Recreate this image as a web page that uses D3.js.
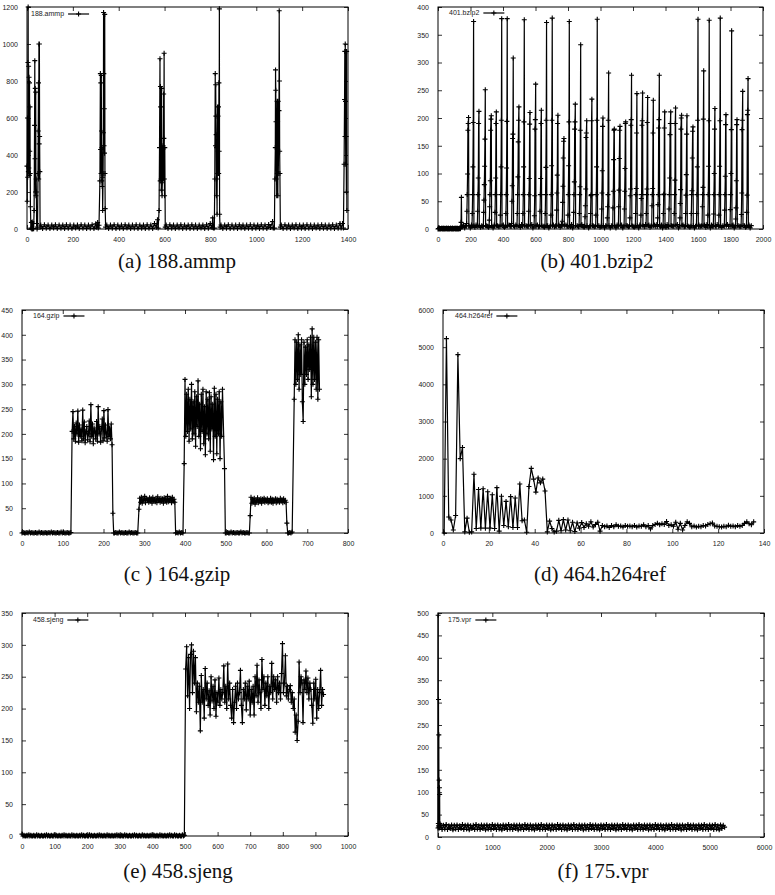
<!DOCTYPE html>
<html><head><meta charset="utf-8">
<script src="https://cdn.jsdelivr.net/npm/d3@7/dist/d3.min.js"></script>
<style>
body{margin:0;background:#fff;}
svg{display:block;}
.cap{font-family:"Liberation Serif","LiberationSerif","Times New Roman","Tinos","Nimbus Roman","Nimbus Roman No9 L","FreeSerif","DejaVu Serif","Noto Serif",serif;}
</style></head><body>
<svg id="chart" width="775" height="895"></svg>
<script>
// ---------------- DATA ----------------
// (a) 188.ammp : bursts as [x,y] pairs, floor sections as {x0,dx,y}
const ammpBursts = [
 [[0,340],[1,150],[2,600],[3,280],[4,900],[5,1200],[6,310],[7,880],[8,330],[9,820],[10,290],[11,790],[12,420],[13,660],[14,300],[15,120],[17,5],[19,35],[21,0],[23,38],[25,0],[27,30],[29,2],[31,100],[33,560],[34,910],[35,380],[36,760],[37,200],[38,740],[39,180],[40,270],[41,200],[42,30],[44,0],[46,10],[48,300],[49,530],[50,790],[51,270],[52,1000],[53,460],[54,1000],[55,500],[56,310],[57,10]],
 [[304,10],[308,35],[311,5],[314,20],[318,260],[320,840],[321,430],[322,790],[323,300],[324,830],[325,530],[326,260],[327,440],[328,230],[329,280],[330,100],[332,300],[333,520],[334,1170],[335,840],[336,450],[337,650],[338,410],[339,1160],[340,300],[341,110],[343,10]],
 [[569,50],[572,5],[576,100],[578,440],[580,920],[581,260],[582,770],[583,660],[584,440],[585,270],[586,210],[587,760],[588,250],[589,180],[591,300],[593,450],[594,270],[596,730],[597,490],[598,950],[599,270],[600,180],[601,440],[603,10]],
 [[810,60],[813,5],[817,5],[819,270],[821,840],[822,450],[823,780],[824,610],[825,510],[826,180],[827,440],[828,270],[829,80],[831,660],[832,300],[833,610],[834,420],[835,660],[836,300],[837,790],[838,420],[839,1190],[840,80],[842,10]],
 [[1071,40],[1074,5],[1079,5],[1081,270],[1083,440],[1084,860],[1085,750],[1086,580],[1087,270],[1088,440],[1089,180],[1091,690],[1092,300],[1093,580],[1094,180],[1095,690],[1096,300],[1097,420],[1099,640],[1100,1180],[1101,800],[1102,420],[1103,300],[1105,10]],
 [[1370,5],[1376,30],[1380,5],[1383,350],[1385,700],[1386,960],[1387,500],[1388,1000],[1389,690],[1390,350],[1391,960],[1392,500],[1393,200],[1394,960],[1395,100]]
];
const ammpFloors = [
 {x0:60,dx:8,y:[22,3,23,4,21,3,22,5,23,3,22,4,21,3,23,4,22,3,22,5,21,3,23,4,22,3,21,4,23,3,28]},
 {x0:348,dx:8,y:[22,3,21,4,23,3,22,4,22,3,23,5,21,3,22,4,23,3,22,4,21,3,23,4,22,3,30,10]},
 {x0:607,dx:8,y:[22,3,23,4,21,3,22,5,23,3,22,4,21,3,23,4,22,3,22,5,21,3,23,4,30,8]},
 {x0:846,dx:8,y:[22,3,21,4,23,3,22,4,22,3,23,5,21,3,22,4,23,3,22,4,21,3,23,4,22,3,24,8]},
 {x0:1109,dx:8,y:[22,3,23,4,21,3,22,5,23,3,22,4,21,3,23,4,22,3,22,5,21,3,23,4,22,3,21,4,23,3,22,4,30]}
];

// (b) 401.bzip2
const bzipStart = {x0:0,dx:3,y:[0,1,0,2,0,1,0,1,2,0,1,0,2,0,1,0,1,2,0,1,0,2,0,1,0,1,2,0,1,0,2,0,1,0,1,2,0,1,0,2,0,1,0,1,2,0,1]};
const bzipSpikes = [
 [140,[3,12,57,4]],
 [174,[5,10,32,62,99,178,190,201,6]],
 [209,[5,28,62,112,192,374,6]],
 [242,[5,32,62,92,190,212,6]],
 [279,[5,30,52,80,113,162,251,6]],
 [314,[5,16,40,62,87,178,198,204,6]],
 [349,[5,30,62,92,190,211,6]],
 [382,[5,25,62,112,196,379,6]],
 [416,[5,28,62,110,194,379,6]],
 [451,[5,10,50,78,163,171,308,6]],
 [486,[5,28,62,94,157,196,220,6]],
 [521,[5,28,62,112,193,377,6]],
 [556,[5,32,62,91,189,210,6]],
 [591,[5,24,60,180,197,261,6]],
 [626,[5,32,62,91,190,214,6]],
 [658,[5,28,62,111,196,372,6]],
 [693,[5,25,62,114,196,380,6]],
 [728,[5,34,65,97,190,205,6]],
 [763,[5,14,48,77,128,158,163,6]],
 [798,[5,25,62,114,193,374,6]],
 [833,[5,30,62,85,180,193,225,6]],
 [868,[5,28,62,76,178,332,6]],
 [903,[5,22,42,72,165,173,195,6]],
 [937,[5,28,60,62,195,234,6]],
 [970,[5,25,62,112,196,378,6]],
 [1005,[5,36,65,105,185,200,6]],
 [1040,[5,20,40,62,196,281,6]],
 [1075,[5,38,68,125,178,180,6]],
 [1110,[5,40,70,127,178,185,6]],
 [1145,[5,36,68,109,190,193,6]],
 [1179,[5,20,60,72,187,197,277,6]],
 [1214,[5,28,62,73,173,244,6]],
 [1247,[5,25,55,62,187,195,245,6]],
 [1280,[5,28,62,72,192,237,6]],
 [1315,[5,42,62,73,173,232,6]],
 [1350,[5,20,44,62,182,197,277,6]],
 [1385,[5,28,62,63,182,211,6]],
 [1420,[5,36,62,92,170,190,211,6]],
 [1452,[5,28,62,88,190,218,6]],
 [1487,[5,20,46,71,180,200,205,6]],
 [1522,[5,28,61,98,171,204,6]],
 [1557,[5,28,62,69,128,176,184,6]],
 [1590,[5,28,62,112,196,378,6]],
 [1625,[5,40,62,75,198,285,6]],
 [1659,[5,25,62,113,195,376,6]],
 [1694,[5,27,62,100,180,217,6]],
 [1727,[5,25,62,113,195,380,6]],
 [1762,[5,34,62,95,188,206,6]],
 [1797,[5,35,62,100,179,357,6]],
 [1830,[5,18,38,87,188,197,6]],
 [1865,[5,26,65,179,196,248,6]],
 [1898,[5,30,61,206,214,271,6]]
];
const bzipFloor = {x0:150,dx:7,y:[
 4,7,2,6,3,8,5,2,7,4, 6,3,7,2,5,8,3,6,4,7, 2,6,5,3,8,4,6,2,7,5, 3,6,4,8,2,5,7,3,6,4,
 2,7,5,8,3,6,4,7,2,5, 6,3,8,4,7,2,6,5,3,7, 4,8,2,6,5,3,7,4,6,2, 8,5,3,7,4,6,2,5,8,3,
 7,4,6,2,5,7,3,8,4,6, 2,7,5,3,6,4,8,2,7,5, 3,6,4,7,2,8,5,3,6,4, 7,2,5,8,3,6,4,7,2,5,
 6,3,8,4,7,2,6,5,4,7, 2,6,3,8,5,2,7,4,6,3, 7,2,5,8,3,6,4,7,2,6, 5,3,8,4,6,2,7,5,3,6,
 4,8,2,5,7,3,6,4,2,7, 5,8,3,6,4,7,2,5,6,3, 8,4,7,2,6,5,3,7,4,8, 2,6,5,3,7,4,6,2,8,5,
 3,7,4,6,2,5,8,3,7,4, 6,2,5,7,3,8,4,6,2,7, 5,3,6,4,8,2,7,5,3,6, 4,7,2,8,5,3,6,4,7,2,
 5,8,3,6,4,7,2,5,6,3, 8,4,7,2,6,5,3,7,4,6, 2,5,8,3,7,4,6,2,5,7, 3]};

// (c) 164.gzip
const gzipChunks = [
 {x0:0,dx:3,y:[0,1,0,0,1,0,2,0,1,0,0,1,0,0,2,0,1,0,0,1,0,0,1,0,2,0,1,0,0,1,0,0,2,0,1,0,0,1,0,0,1]},
 {x0:123,dx:2,y:[205,245,190,215,185,222,200,246,183,218,195,210,186,248,190,224,182,205,215,188,200,226,184,259,195,220,180,212,205,190,225,185,255,200,215,183,210,230,186,247,192,218,200,185,249,195,212,190,220,178]},
 {x0:223,dx:2,y:[40,0]},
 {x0:227,dx:3,y:[0,1,0,0,2,0,1,0,0,1,0,0,2,0,1,0,0,1,0,0]},
 {x0:287,dx:2,y:[48,70,62,72,60,68,65,74,61,70,66,68,62,71,64,69,60,72,65,67,63,70,61,73,66,68,62,70,64,69,60,71,65,68,62,74,63,69,66,70,61,72,64,68,62]},
 {x0:377,dx:3,y:[0,1,0,2,0,1,0]},
 {x0:398,dx:2,y:[140,310,195,280,205,290,185,270,210,300,190,265,200,285,175,275,215,307,195,260,170,280,205,290,180,255,158,285,200,270,190,283,165,275,210,260,148,292,195,280,160,270,200,285,150,265,195,290]},
 {x0:497,dx:2,y:[130,0]},
 {x0:501,dx:3,y:[0,1,0,0,2,0,1,0,0,1,0,0,2,0,1,0,0,1,0,0]},
 {x0:560,dx:2,y:[35,72,60,68,62,70,58,66,64,71,61,67,63,69,60,68,65,70,62,67,64,69,61,66,63,70,62,68,60,67,65,69,61,68,63,66,62,70,64,67,61,69,63,66,62]},
 {x0:650,dx:2,y:[20,0]},
 {x0:654,dx:3,y:[0,1,0,2]},
 {x0:668,dx:2,y:[270,390,300,385,310,400,290,380,320,390,265,225,385,300,375,320,390,310,380,330,395,275,412,300,395,310,385,290,395,270,390,290]}
];

// (d) 464.h264ref
const h264Start = 0.5;
const h264Values = [0,5230,430,350,80,470,4800,2000,2300,30,400,20,30,1580,120,1170,130,1190,130,1110,130,1030,120,1220,50,990,200,850,170,980,150,940,150,1320,330,350,20,1250,1740,1450,1100,1480,1350,1450,1130,30,320,120,30,50,340,60,360,80,350,60,290,40,270,130,280,150,250,180,300,160,230,290,50,200,170,190,150,200,170,220,180,190,160,200,180,190,170,200,160,190,180,220,170,200,110,200,230,260,220,250,230,310,200,220,180,290,100,260,80,200,300,260,170,190,160,180,170,200,190,230,250,270,190,180,170,160,180,170,210,180,190,170,200,180,200,260,300,250,220,300];

// (e) 458.sjeng
const sjengZero = {x0:0,dx:3,y:[
 3,0,1,0,0,1,0,2,0,1, 0,0,1,0,0,2,0,1,0,0, 1,0,0,1,0,2,0,1,0,0, 1,0,0,2,0,1,0,0,1,0,
 0,1,0,2,0,1,0,0,1,0, 0,2,0,1,0,0,1,0,0,1, 0,2,0,1,0,0,1,0,0,2, 0,1,0,0,1,0,0,1,0,2,
 0,1,0,0,1,0,0,2,0,1, 0,0,1,0,0,1,0,2,0,1, 0,0,1,0,0,2,0,1,0,0, 1,0,0,1,0,2,0,1,0,0,
 1,0,0,2,0,1,0,0,1,0, 0,1,0,2,0,1,0,0,1,0, 0,2,0,1,0,0,1,0,0,1, 0,2,0,1,0,0,2,0,1,0,
 0,1,0,0,2,0,1]};
const sjengTail = {x0:502,dx:3,y:[262,297,220,280,200,285,300,225,290,240,280,195,240,210,235,165,252,210,230,185,263,215,240,205,228,190,250,212,235,200,245,188,225,210,248,205,230,215,225,267,210,235,200,270,215,240,205,185,230,178,210,235,200,240,215,225,260,205,178,230,215,240,198,235,215,243,190,230,210,235,190,250,220,268,210,245,225,200,277,230,250,205,240,220,250,200,235,225,271,215,250,230,245,210,250,225,240,215,255,302,225,240,283,220,235,215,230,236,210,225,200,215,163,190,150,180,273,225,250,240,178,245,230,259,225,248,215,240,230,205,177,240,215,246,185,230,200,225,260,205,230,222]};

// (f) 175.vpr
const vprHead = [[0,20],[3,495],[6,30],[9,307],[12,25],[15,228],[18,22],[21,127],[24,20],[27,110],[30,95],[33,30],[36,22]];
const vprBand = {x0:50,dx:25,y:[
 27,17,26,18,28,17,25,19,27,16, 26,18,27,17,25,19,28,17,26,18, 27,16,25,19,26,17,28,18,25,17,
 27,19,26,16,27,18,25,17,28,19, 26,17,27,18,25,16,27,19,26,17, 28,18,25,17,27,19,26,16,27,18,
 25,17,28,19,26,17,27,18,25,16, 27,19,26,17,28,18,25,17,27,19, 26,16,27,18,25,17,28,19,26,17,
 27,18,25,16,27,19,26,17,28,18, 25,17,27,19,26,16,27,18,25,17, 28,19,26,17,27,18,25,16,27,19,
 26,17,28,18,25,17,27,19,26,16, 27,18,25,17,28,19,26,17,27,18, 25,16,27,19,26,17,28,18,25,17,
 27,19,26,16,27,18,25,17,28,19, 26,17,27,18,25,16,27,19,26,17, 28,18,25,17,27,19,26,16,27,18,
 25,17,28,19,26,17,27,18,25,16, 27,19,26,17,28,18,25,17,27,19, 26,17,28,18,25,16,27,19,26,22]};

// tick values
const ammpXTicks=[0,200,400,600,800,1000,1200,1400], ammpYTicks=[0,200,400,600,800,1000,1200];
const bzipXTicks=[0,200,400,600,800,1000,1200,1400,1600,1800,2000], bzipYTicks=[0,50,100,150,200,250,300,350,400];
const gzipXTicks=[0,100,200,300,400,500,600,700,800], gzipYTicks=[0,50,100,150,200,250,300,350,400,450];
const h264XTicks=[0,20,40,60,80,100,120,140], h264YTicks=[0,1000,2000,3000,4000,5000,6000];
const sjengXTicks=[0,100,200,300,400,500,600,700,800,900,1000], sjengYTicks=[0,50,100,150,200,250,300,350];
const vprXTicks=[0,1000,2000,3000,4000,5000,6000], vprYTicks=[0,50,100,150,200,250,300,350,400,450,500];
const seriesNames=["188.ammp","401.bzip2","164.gzip","464.h264ref","458.sjeng","175.vpr"];
const captions=["(a) 188.ammp","(b) 401.bzip2","(c ) 164.gzip","(d) 464.h264ref","(e) 458.sjeng","(f) 175.vpr"];

// ---------------- BUILD POINTS ----------------
const fromChunk = c => c.y.map((v,i)=>[c.x0+i*c.dx, v]);
const byX = (a,b)=>a[0]-b[0];
const ammpPts = ammpBursts.flat().concat(ammpFloors.flatMap(fromChunk)).sort(byX);
const spikePts = bzipSpikes.flatMap(([x0,vals])=>vals.map((v,i)=>[x0+i*2,v]));
const spikeRanges = bzipSpikes.map(([x0,vals])=>[x0-2, x0+2*vals.length+1]);
const floorPts = fromChunk(bzipFloor).filter(p=>p[0]<=1932 && !spikeRanges.some(r=>p[0]>=r[0]&&p[0]<=r[1]));
const bzipPts = fromChunk(bzipStart).concat(spikePts, floorPts).sort(byX);
const gzipPts = gzipChunks.flatMap(fromChunk);
const h264Pts = h264Values.map((v,i)=>[h264Start+i, v]);
const sjengPts = fromChunk(sjengZero).concat(fromChunk(sjengTail));
const vprPts = vprHead.concat(fromChunk(vprBand));

// ---------------- LAYOUT ----------------
const panels = [
 {box:[27,7,348,229], xd:[0,1400], yd:[0,1200], xt:ammpXTicks, yt:ammpYTicks, pts:ammpPts, lg:[31,14], cap:[177,268]},
 {box:[438,7,763,229], xd:[0,2000], yd:[0,400], xt:bzipXTicks, yt:bzipYTicks, pts:bzipPts, lg:[449,13], cap:[597,268]},
 {box:[22,310,348,533], xd:[0,800], yd:[0,450], xt:gzipXTicks, yt:gzipYTicks, pts:gzipPts, lg:[33,316], cap:[177,581]},
 {box:[443,310,764,533], xd:[0,140], yd:[0,6000], xt:h264XTicks, yt:h264YTicks, pts:h264Pts, lg:[455,316], cap:[600,581]},
 {box:[22,613,348,836], xd:[0,1000], yd:[0,350], xt:sjengXTicks, yt:sjengYTicks, pts:sjengPts, lg:[33,620], cap:[178,878]},
 {box:[438,613,764,837], xd:[0,6000], yd:[0,500], xt:vprXTicks, yt:vprYTicks, pts:vprPts, lg:[448,620], cap:[603,878]}
];

const SANS = "'Liberation Sans', Arial, Helvetica, sans-serif";
const svg = d3.select("#chart");
const M = 2.5; // marker arm
const fmt = d3.format("d");
panels.forEach((p,k)=>{
  const [x0,y0,x1,y1]=p.box;
  const x=d3.scaleLinear().domain(p.xd).range([x0,x1]);
  const y=d3.scaleLinear().domain(p.yd).range([y1,y0]);
  const g=svg.append("g");
  const T=4;
  const ax=[
    d3.axisBottom(x).tickValues(p.xt).tickFormat(fmt).tickSizeInner(-T).tickSizeOuter(0).tickPadding(T+4),
    d3.axisTop(x).tickValues(p.xt).tickSizeInner(-T).tickSizeOuter(0).tickFormat(""),
    d3.axisLeft(y).tickValues(p.yt).tickFormat(fmt).tickSizeInner(-T).tickSizeOuter(0).tickPadding(T+5),
    d3.axisRight(y).tickValues(p.yt).tickSizeInner(-T).tickSizeOuter(0).tickFormat("")
  ];
  const tr=[[0,y1],[0,y0],[x0,0],[x1,0]];
  ax.forEach((a,i)=>{
    const ag=g.append("g").attr("transform",`translate(${tr[i][0]},${tr[i][1]})`).call(a);
    ag.attr("font-family",SANS).attr("font-size",7);
    ag.select(".domain").remove();
    ag.selectAll("line").attr("stroke","#000").attr("stroke-width",0.8);
    ag.selectAll("text").attr("fill","#222");
  });
  g.append("rect").attr("x",x0).attr("y",y0).attr("width",x1-x0).attr("height",y1-y0)
    .attr("fill","none").attr("stroke","#000").attr("stroke-width",1);
  const line=d3.line().x(d=>x(d[0])).y(d=>y(d[1]));
  g.append("path").datum(p.pts).attr("d",line).attr("fill","none").attr("stroke","#000").attr("stroke-width",1.2);
  const md=p.pts.map(d=>{const px=x(d[0]),py=y(d[1]);return `M${px-M},${py}h${2*M}M${px},${py-M}v${2*M}`;}).join("");
  g.append("path").attr("d",md).attr("fill","none").attr("stroke","#000").attr("stroke-width",1.1);
  const lt=g.append("text").attr("font-family",SANS).attr("font-size",7).attr("fill","#222")
    .attr("x",p.lg[0]).attr("y",p.lg[1]).attr("dy","0.35em").text(seriesNames[k]);
  const lx=p.lg[0]+lt.node().getComputedTextLength()+4;
  g.append("line").attr("x1",lx).attr("x2",lx+21).attr("y1",p.lg[1]).attr("y2",p.lg[1]).attr("stroke","#000").attr("stroke-width",1.2);
  const cx=lx+10.5, cy=p.lg[1];
  g.append("path").attr("d",`M${cx-M},${cy}h${2*M}M${cx},${cy-M}v${2*M}`).attr("stroke","#000").attr("stroke-width",1.1);
  svg.append("text").attr("class","cap").style("font-size","21px").style("fill","#111")
    .attr("x",p.cap[0]).attr("y",p.cap[1]).attr("text-anchor","middle").text(captions[k]);
});
</script>
</body></html>
